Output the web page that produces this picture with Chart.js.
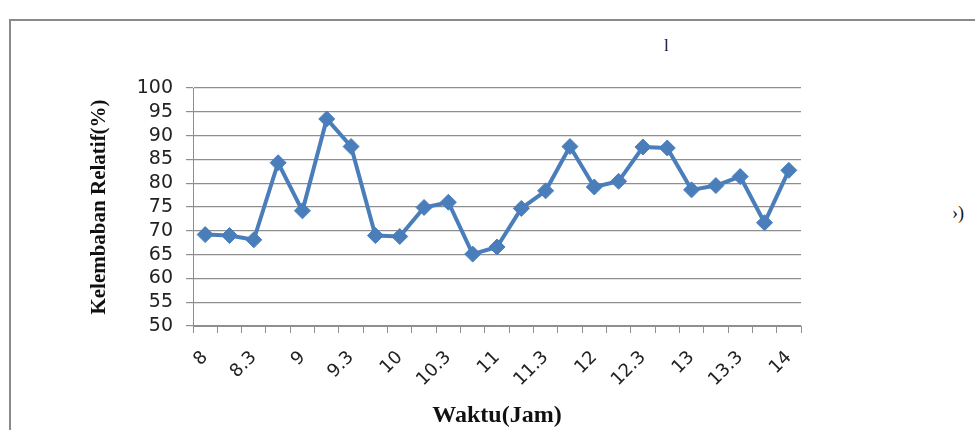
<!DOCTYPE html>
<html lang="id">
<head>
  <meta charset="UTF-8">
  <title>Kelembaban Relatif</title>
  <script src="https://cdn.jsdelivr.net/npm/chart.js"></script>
  <style>
    html, body { margin: 0; padding: 0; background: #fff; }
    body { width: 975px; height: 430px; position: relative; overflow: hidden; }
    .frame {
      position: absolute; left: 9px; top: 19px; right: -5px; bottom: -5px;
      border-top: 2px solid #8a8a8a; border-left: 2px solid #8a8a8a;
    }
    .stray { position: absolute; font-family: "Liberation Serif", serif; color: #111; }
    #wrap { position: absolute; left: 0; top: 0; width: 975px; height: 430px; }
  </style>
</head>
<body>
  <div class="frame"></div>
  <span class="stray" style="left:664px; top:36px; font-size:17px;">l</span>
  <span class="stray" style="left:952px; top:203px; font-size:18px;">›)</span>
  <div id="wrap"><canvas id="chart" width="975" height="430"></canvas></div>

  <script>
    // jam pengamatan (tiap 15 menit)
    const waktu = ['8', '8.15', '8.3', '8.45', '9', '9.15', '9.3', '9.45', '10', '10.15', '10.3', '10.45',
                   '11', '11.15', '11.3', '11.45', '12', '12.15', '12.3', '12.45', '13', '13.15', '13.3', '13.45', '14'];
    const kelembaban = [69.2, 69.0, 68.1, 84.3, 74.2, 93.5, 87.7, 69.0, 68.8, 74.9, 76.0, 65.1,
                        66.6, 74.7, 78.4, 87.7, 79.2, 80.4, 87.6, 87.4, 78.6, 79.5, 81.4, 71.7, 82.7];
    const yMin = 50, yMax = 100, yStep = 5;

    const biru = '#4a7ebb';
    const abu = '#8e8e8e';

    new Chart(document.getElementById('chart'), {
      type: 'line',
      data: {
        labels: waktu,
        datasets: [{
          data: kelembaban,
          borderColor: biru,
          backgroundColor: biru,
          borderWidth: 4,
          tension: 0,
          pointStyle: 'rectRot',
          pointRadius: 8,
          pointBorderWidth: 1,
          pointBackgroundColor: biru,
          pointBorderColor: biru
        }]
      },
      options: {
        responsive: false,
        animation: false,
        layout: { padding: { left: 87, top: 88, right: 174, bottom: 0 } },
        plugins: { legend: { display: false }, tooltip: { enabled: false } },
        scales: {
          x: {
            offset: true,
            afterFit: s => { s.height = 104; },
            grid: { offset: true, drawOnChartArea: false, color: abu, tickLength: 7 },
            border: { color: abu, width: 1 },
            ticks: {
              autoSkip: false,
              minRotation: 45,
              maxRotation: 45,
              padding: 14,
              color: '#222',
              font: { family: 'DejaVu Sans', size: 18 },
              callback: (v, i) => (i % 2 === 0 ? waktu[i] : '')
            },
            title: {
              display: true,
              text: 'Waktu(Jam)',
              color: '#111',
              font: { family: 'Liberation Serif', size: 24, weight: 'bold' },
              padding: { top: 0, bottom: 0 }
            }
          },
          y: {
            min: yMin,
            max: yMax,
            afterFit: s => { s.width = 193 - 87; },
            grid: { color: abu, tickLength: 7, lineWidth: 1.2 },
            border: { color: abu, width: 1 },
            ticks: {
              stepSize: yStep,
              autoSkip: false,
              padding: 13,
              color: '#222',
              font: { family: 'DejaVu Sans', size: 19 }
            },
            title: {
              display: true,
              text: 'Kelembaban Relatif(%)',
              color: '#111',
              font: { family: 'Liberation Serif', size: 21, weight: 'bold' },
              padding: { top: 0, bottom: 0 }
            }
          }
        }
      }
    });
  </script>
</body>
</html>
